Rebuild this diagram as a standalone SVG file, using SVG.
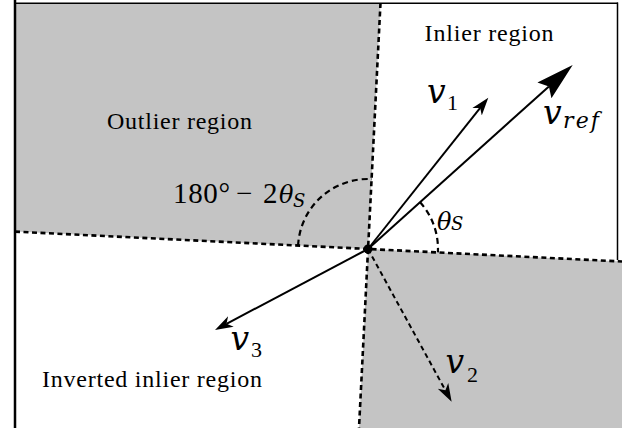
<svg xmlns="http://www.w3.org/2000/svg" width="622" height="428" viewBox="0 0 622 428">
<style>
.region{fill:#c4c4c4;stroke:none}
.bound{fill:none;stroke:#000;stroke-width:2.6;stroke-dasharray:5 3.5}
.arc{fill:none;stroke:#000;stroke-width:2.2;stroke-dasharray:6 4}
.vec{fill:none;stroke:#000;stroke-width:2}
.lbl{font-family:"Liberation Serif","Times New Roman",serif;font-size:24px;fill:#000}
.math{font-family:"Liberation Serif","Times New Roman",serif;fill:#000}
.mv{font-family:"DejaVu Serif",serif;font-style:italic;font-size:33px;fill:#000}
.mi{font-family:"DejaVu Serif",serif;font-style:italic;fill:#000}
</style>
<defs>
<marker id="headS" markerUnits="userSpaceOnUse" markerWidth="20" markerHeight="14" refX="5" refY="7" orient="auto" viewBox="0 0 20 14">
<path d="M0,1 L18,7 L0,13 L5,7 Z" fill="#000"/>
</marker>
<marker id="headL" markerUnits="userSpaceOnUse" markerWidth="40" markerHeight="24" refX="6" refY="12" orient="auto" viewBox="0 0 40 24">
<path d="M0,1.5 L38,12 L0,22.5 L6,12 Z" fill="#000"/>
</marker>
</defs>
<g id="regions">
<polygon class="region" points="16,4 380.5,4 368,249 16,231.6"/>
<polygon class="region" points="368,249 622,261.5 622,428 359,428"/>
</g>
<g id="frame">
<line x1="15" y1="0" x2="15" y2="428" stroke="#000" stroke-width="2.5"/>
<line x1="14" y1="3.3" x2="618" y2="3.3" stroke="#000" stroke-width="1.5"/>
<line x1="617.5" y1="2.5" x2="617.5" y2="260" stroke="#000" stroke-width="1.5"/>
</g>
<g id="connectors">
<line class="bound" x1="15" y1="231.6" x2="622" y2="261.5"/>
<line class="bound" x1="380.5" y1="3" x2="359" y2="428"/>
<path class="arc" d="M298.1,245.6 A70,70 0 0 1 372,179.1"/>
<path class="arc" d="M420.1,202.2 A70,70 0 0 1 437.9,252.4"/>
<line id="v_ref" class="vec" x1="368" y1="249" x2="548.9" y2="86.4" marker-end="url(#headL)"/>
<line id="v_1" class="vec" x1="368" y1="249" x2="480.2" y2="107.9" marker-end="url(#headS)"/>
<line id="v_3" class="vec" x1="368" y1="249" x2="226.5" y2="323.8" marker-end="url(#headS)"/>
<line id="v_2" class="vec" x1="368" y1="249" x2="445.4" y2="390.3" stroke-dasharray="5 3.5" marker-end="url(#headS)"/>
<circle cx="368" cy="249" r="4.5" fill="#000"/>
</g>
<g id="labels">
<text class="lbl" x="424.6" y="40.5" textLength="129" lengthAdjust="spacing">Inlier region</text>
<text class="lbl" x="107" y="128.5" textLength="145" lengthAdjust="spacing">Outlier region</text>
<text class="lbl" x="42" y="386.5" textLength="220" lengthAdjust="spacing">Inverted inlier region</text>
<g id="angle-large">
<text class="math" font-size="29" x="173" y="203.3" textLength="57" lengthAdjust="spacing">180°</text>
<text class="math" font-size="29" x="236" y="203.3">−</text>
<text class="math" font-size="29" x="263" y="203.3">2</text>
<text class="mi" font-size="24" x="279" y="203.3">θ</text>
<text class="mi" font-size="18" x="293" y="207.3">S</text>
</g>
<g id="angle-small">
<text class="mi" font-size="24" x="437" y="230">θ</text>
<text class="mi" font-size="18" x="451" y="230">S</text>
</g>
<g id="lbl-v1"><text class="mv" x="427" y="103">v</text><text class="math" font-size="22" x="447" y="110">1</text></g>
<g id="lbl-vref"><text class="mv" x="543" y="123.5">v</text><text class="mi" font-size="22" x="563" y="128" textLength="36" lengthAdjust="spacing">ref</text></g>
<g id="lbl-v3"><text class="mv" x="230.5" y="350">v</text><text class="math" font-size="22" x="251" y="357">3</text></g>
<g id="lbl-v2"><text class="mv" x="445.5" y="373">v</text><text class="math" font-size="22" x="467" y="381.5">2</text></g>
</g>
</svg>
